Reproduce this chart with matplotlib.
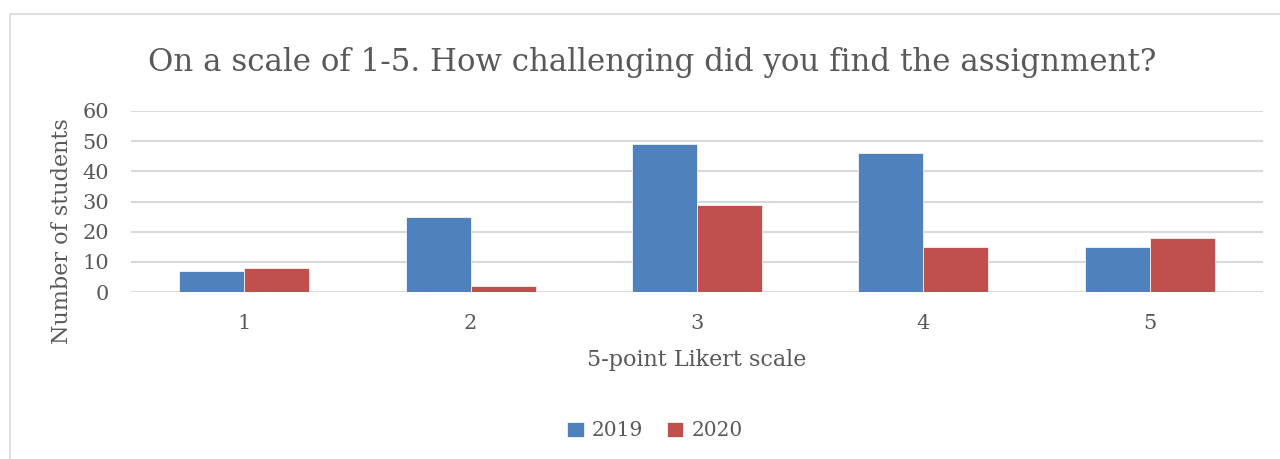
import numpy as np
import matplotlib.pyplot as plt

# données
categories = ['1', '2', '3', '4', '5']
annees = ['2019', '2020']
valeurs_2019 = [7, 25, 49, 46, 15]
valeurs_2020 = [8, 2, 29, 15, 18]

couleurs = ['#4F81BD', '#C0504D']
gris_texte = '#595959'
gris_grille = '#D9D9D9'

plt.rcParams['font.family'] = ['DejaVu Serif']

fig = plt.figure(figsize=(12.8, 4.59), dpi=100)
# cadre du graphique
fig.patches.append(plt.Rectangle((10/1280, -0.01), 1.02, 1 - 14/459 + 0.01,
                                 transform=fig.transFigure, fill=False,
                                 edgecolor=gris_grille, lw=1.2))

ax = fig.add_axes([131/1280, 1 - 292/459, (1263 - 131)/1280, (292 - 111)/459])

x = np.arange(len(categories))
largeur = 0.287
ax.bar(x - largeur/2, valeurs_2019, largeur, color=couleurs[0], label=annees[0],
       edgecolor='white', linewidth=0.5, zorder=3)
ax.bar(x + largeur/2, valeurs_2020, largeur, color=couleurs[1], label=annees[1],
       edgecolor='white', linewidth=0.5, zorder=3)

ax.set_xlim(-0.5, len(categories) - 0.5)
ax.set_ylim(0, 60)
ax.set_yticks(range(0, 61, 10))
ax.set_xticks(x)
ax.set_xticklabels(categories)
ax.grid(axis='y', color=gris_grille, lw=1.5, zorder=0)
for s in ax.spines.values():
    s.set_visible(False)
ax.tick_params(length=0, labelsize=15, colors=gris_texte)
ax.tick_params(axis='x', pad=16)
ax.tick_params(axis='y', pad=16)

fig.text(62/1280, 1 - 231/459, 'Number of students', rotation=90,
         ha='center', va='center', fontsize=16, color=gris_texte)
fig.text(697/1280, 1 - 360/459, '5-point Likert scale',
         ha='center', va='center', fontsize=16, color=gris_texte)

fig.text(652/1280, 1 - 62/459, 'On a scale of 1-5. How challenging did you find the assignment?',
         ha='center', va='center', fontsize=22.2, color=gris_texte)

fig.legend(loc='center', bbox_to_anchor=(655/1280, 1 - 431/459), ncol=2, frameon=False,
           fontsize=14.5, labelcolor=gris_texte, handlelength=0.8, handleheight=0.8,
           handletextpad=0.4, columnspacing=1.2)

plt.savefig('out.png', dpi=100)
